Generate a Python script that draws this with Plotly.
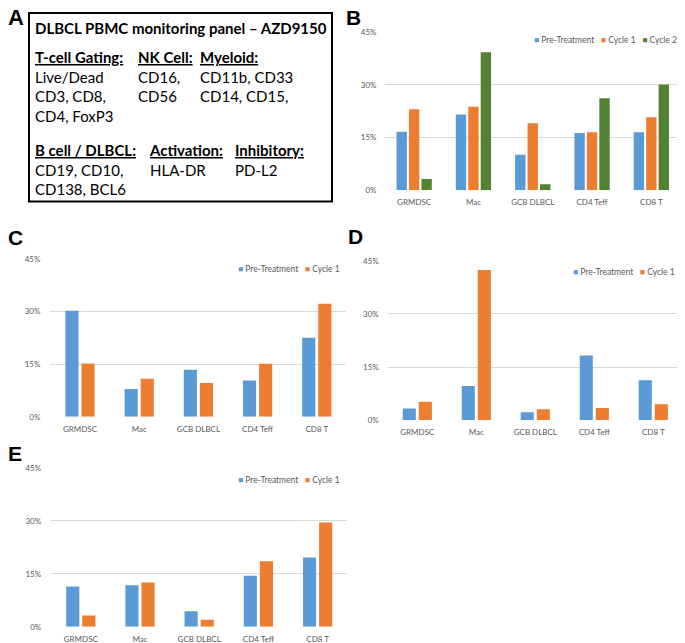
import plotly.graph_objects as go

# ---------------- data ----------------
categories = ["GRMDSC", "Mac", "GCB DLBCL", "CD4 Teff", "CD8 T"]
series_names = ["Pre-Treatment", "Cycle 1", "Cycle 2"]
series_colors = ["#5B9BD5", "#ED7D31", "#548235"]

b_pre = [16.7, 21.6, 10.1, 16.3, 16.5]
b_cycle1 = [23.1, 23.8, 19.1, 16.5, 20.8]
b_cycle2 = [3.2, 39.3, 1.7, 26.2, 30.1]

c_pre = [30.2, 7.9, 13.4, 10.3, 22.5]
c_cycle1 = [15.2, 10.8, 9.6, 15.1, 32.2]

d_pre = [3.3, 9.7, 2.3, 18.3, 11.3]
d_cycle1 = [5.2, 42.4, 3.1, 3.5, 4.5]

e_pre = [11.4, 11.7, 4.4, 14.4, 19.6]
e_cycle1 = [3.2, 12.5, 2.0, 18.5, 29.5]

y_tick_values = [0, 15, 30, 45]
y_tick_labels = ["0%", "15%", "30%", "45%"]

panel_a_title = "DLBCL PBMC monitoring panel \u2013 AZD9150"
panel_a_columns = [
    ("T-cell Gating:", ["Live/Dead", "CD3, CD8,", "CD4, FoxP3"]),
    ("NK Cell:", ["CD16,", "CD56"]),
    ("Myeloid:", ["CD11b, CD33", "CD14, CD15,"]),
    ("B cell / DLBCL:", ["CD19, CD10,", "CD138, BCL6"]),
    ("Activation:", ["HLA-DR"]),
    ("Inhibitory:", ["PD-L2"]),
]

# ---------------- layout helpers ----------------
# The page body adds an 8 px margin, so the figure is sized to the visible
# area and all positions (given in window pixels) are shifted by that offset.
OFF = 8
W, H = 685 - OFF, 643 - OFF
FONT = "Lato"
TICK_COLOR = "#595959"
GRID_COLOR = "#D9D9D9"


def px_x(p):
    return (p - OFF) / W


def px_y(p):
    return 1 - (p - OFF) / H


panels = [
    dict(letter="B", ax="", series=[b_pre, b_cycle1, b_cycle2],
         xdom=(384.5, 681.0), ydom=(190.3, 32.3), letter_pos=(344, 17),
         legend_pos=(532, 40), standoff=7),
    dict(letter="C", ax="2", series=[c_pre, c_cycle1],
         xdom=(50.4, 346.4), ydom=(416.7, 259.0), letter_pos=(6, 237),
         legend_pos=(236, 269), standoff=9),
    dict(letter="D", ax="3", series=[d_pre, d_cycle1],
         xdom=(387.8, 682.8), ydom=(420.3, 260.7), letter_pos=(346, 236.5),
         legend_pos=(571, 272), standoff=8),
    dict(letter="E", ax="4", series=[e_pre, e_cycle1],
         xdom=(51.2, 347.2), ydom=(626.7, 467.7), letter_pos=(6, 453.5),
         legend_pos=(236, 479.5), standoff=9),
]

fig = go.Figure()
layout = dict(
    template="none",
    width=W, height=H, autosize=False,
    margin=dict(l=0, r=0, t=0, b=0, pad=0, autoexpand=False),
    paper_bgcolor="white", plot_bgcolor="white",
    barmode="overlay", showlegend=False,
    font=dict(family=FONT, color=TICK_COLOR),
)
annotations = []
shapes = []

for p in panels:
    n = len(p["series"])
    if n == 3:
        width, step = 0.175, 0.21
    else:
        width, step = 0.222, 0.272
    total = step * (n - 1) + width
    start = -total / 2
    xa = "x" + p["ax"]
    ya = "y" + p["ax"]
    for i, vals in enumerate(p["series"]):
        fig.add_trace(go.Bar(
            x=categories, y=vals, width=width, offset=start + i * step,
            marker=dict(color=series_colors[i], line=dict(width=0)),
            name=series_names[i], xaxis=xa, yaxis=ya, showlegend=False,
        ))
    layout["xaxis" + p["ax"]] = dict(
        domain=[px_x(p["xdom"][0]), px_x(p["xdom"][1])], anchor=ya,
        type="category", categoryorder="array", categoryarray=categories,
        showgrid=False, zeroline=False, showline=False, ticks="",
        automargin=False,
        tickfont=dict(family=FONT, size=8, color=TICK_COLOR),
        ticklabelstandoff=6, fixedrange=True,
    )
    layout["yaxis" + p["ax"]] = dict(
        domain=[px_y(p["ydom"][0]), px_y(p["ydom"][1])], anchor=xa,
        range=[0, 45], tickvals=y_tick_values, ticktext=y_tick_labels,
        showgrid=True, gridcolor=GRID_COLOR, gridwidth=1, zeroline=False,
        showline=False, ticks="", automargin=False,
        tickfont=dict(family=FONT, size=8, color=TICK_COLOR),
        ticklabelstandoff=p["standoff"], fixedrange=True,
    )
    # panel letter
    annotations.append(dict(
        text="<b>%s</b>" % p["letter"], xref="paper", yref="paper",
        x=px_x(p["letter_pos"][0]), y=px_y(p["letter_pos"][1]),
        xanchor="left", yanchor="middle", showarrow=False,
        font=dict(family="Liberation Sans", size=21, color="black"),
    ))
    # legend built from series names and colours
    parts = []
    for i in range(n):
        parts.append('<span style="color:%s">\u25A0</span>\u00a0%s' % (series_colors[i], series_names[i]))
    annotations.append(dict(
        text="\u00a0\u00a0\u00a0".join(parts), xref="paper", yref="paper",
        x=px_x(p["legend_pos"][0]), y=px_y(p["legend_pos"][1]),
        xanchor="left", yanchor="middle", align="left", showarrow=False,
        font=dict(family=FONT, size=8.5, color=TICK_COLOR),
    ))

# ---------------- panel A ----------------
annotations.append(dict(
    text="<b>A</b>", xref="paper", yref="paper", x=px_x(6), y=px_y(17.5),
    xanchor="left", yanchor="middle", showarrow=False,
    font=dict(family="Liberation Sans", size=22, color="black"),
))
shapes.append(dict(
    type="rect", xref="paper", yref="paper",
    x0=px_x(29), x1=px_x(332), y0=px_y(13), y1=px_y(201.5),
    line=dict(color="black", width=2), fillcolor="rgba(0,0,0,0)",
))
annotations.append(dict(
    text="<b>%s</b>" % panel_a_title, xref="paper", yref="paper",
    x=px_x(33), y=px_y(27.5), xanchor="left", yanchor="middle", align="left",
    showarrow=False,
    font=dict(family=FONT, size=15, color="black"),
))
col_x = [33, 136, 198, 33, 147, 233]
col_y = [56, 56, 56, 148.7, 148.7, 148.7]
for (head, lines), cx, cy in zip(panel_a_columns, col_x, col_y):
    txt = "<b><u>%s</u></b><br>" % head + "<br>".join(lines)
    annotations.append(dict(
        text=txt, xref="paper", yref="paper", x=px_x(cx), y=px_y(cy - 10),
        xanchor="left", yanchor="top", align="left", showarrow=False,
        font=dict(family=FONT, size=15, color="black"),
    ))

layout["annotations"] = annotations
layout["shapes"] = shapes
fig.update_layout(**layout)
fig.write_html("out.html")
